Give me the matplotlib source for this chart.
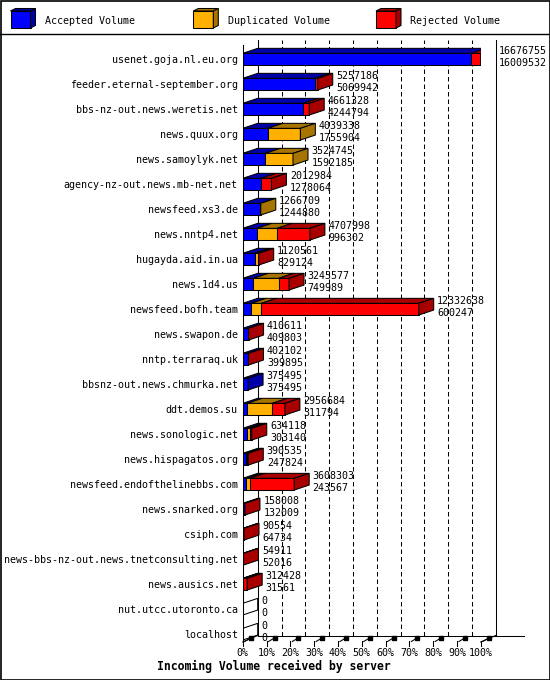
import matplotlib
matplotlib.use("Agg")
import matplotlib.pyplot as plt
from matplotlib.patches import Rectangle, Polygon
from matplotlib.lines import Line2D

# ---------------- data ----------------
servers = [
    "usenet.goja.nl.eu.org", "feeder.eternal-september.org", "bbs-nz-out.news.weretis.net",
    "news.quux.org", "news.samoylyk.net", "agency-nz-out.news.mb-net.net", "newsfeed.xs3.de",
    "news.nntp4.net", "hugayda.aid.in.ua", "news.1d4.us", "newsfeed.bofh.team", "news.swapon.de",
    "nntp.terraraq.uk", "bbsnz-out.news.chmurka.net", "ddt.demos.su", "news.sonologic.net",
    "news.hispagatos.org", "newsfeed.endofthelinebbs.com", "news.snarked.org", "csiph.com",
    "news-bbs-nz-out.news.tnetconsulting.net", "news.ausics.net", "nut.utcc.utoronto.ca", "localhost",
]
total_volume = [16676755, 5257186, 4661328, 4039338, 3524745, 2012984, 1266709, 4707998, 1120561,
                3245577, 12332638, 410611, 402102, 375495, 2956684, 634118, 390535, 3608303,
                158008, 90554, 54911, 312428, 0, 0]
accepted = [16009532, 5069942, 4244794, 1755904, 1592185, 1278064, 1244880, 996302, 829124,
            749989, 600247, 409803, 399895, 375495, 311794, 303140, 247824, 243567,
            132009, 64734, 52016, 31561, 0, 0]
duplicated = [0, 0, 0, 2283434, 1932560, 0, 21829, 1410000, 230000,
              1765000, 706000, 0, 0, 0, 1760000, 190000, 60000, 235000,
              0, 0, 0, 0, 0, 0]
rejected = [667223, 187244, 416534, 0, 0, 734920, 0, 2301696, 61437,
            730588, 11026391, 808, 2207, 0, 884890, 140978, 82711, 3129736,
            25999, 25820, 2895, 280867, 0, 0]
legend_labels = ["Accepted Volume", "Duplicated Volume", "Rejected Volume"]
tick_labels = ["0%", "10%", "20%", "30%", "40%", "50%", "60%", "70%", "80%", "90%", "100%"]
title = "Incoming Volume received by server"

# ---------------- style ----------------
FRONT = ["#0000ff", "#ffb000", "#ff0000"]
DARK = ["#0000a8", "#a87400", "#a80000"]
FONT = "DejaVu Sans Mono"
FS = 7.2
LW = 0.75

W, H = 550, 680
fig = plt.figure(figsize=(W / 100, H / 100), dpi=100)
fig.patch.set_facecolor("white")

# pixel overlay for legend / frame
pax = fig.add_axes([0, 0, 1, 1])
pax.set_xlim(0, W)
pax.set_ylim(H, 0)
pax.set_axis_off()
pax.add_patch(Rectangle((0.5, 0.5), W - 1, H - 1, fill=False, ec="black", lw=1.2))
pax.add_line(Line2D([0, W], [34, 34], color="black", lw=1.0))

cube_x = [10.5, 193.3, 376.0]
label_x = [44.6, 228.0, 410.5]
for k in range(3):
    x0, y0, cw, ch, d, u = cube_x[k], 11.0, 20, 17, 5, 2.5
    pax.add_patch(Rectangle((x0, y0), cw, ch, fc=FRONT[k], ec="black", lw=LW))
    pax.add_patch(Polygon([(x0, y0), (x0 + d, y0 - u), (x0 + cw + d, y0 - u), (x0 + cw, y0)],
                          fc=DARK[k], ec="black", lw=LW))
    pax.add_patch(Polygon([(x0 + cw, y0), (x0 + cw + d, y0 - u), (x0 + cw + d, y0 + ch - u),
                           (x0 + cw, y0 + ch)], fc=DARK[k], ec="black", lw=LW))
    pax.text(label_x[k], 23.8, legend_labels[k], family=FONT, fontsize=FS, ha="left", va="baseline")

# main axes: front plane
X0, X1 = 242.7, 480.7      # px of 0% / 100%
YT, YB = 40.0, 642.0       # px top / front floor
ROW0, ROWSP = 59.2, 25.0   # px of first row centre, spacing
ax = fig.add_axes([X0 / W, (H - YB) / H, (X1 - X0) / W, (YB - YT) / H])
ax.set_axis_off()
vmax = max(total_volume)
ax.set_xlim(0, vmax)
ax.set_ylim((YB - ROW0) / ROWSP, (YT - ROW0) / ROWSP)

def px_x(p):
    return p * vmax / (X1 - X0)

def px_y(p):
    return p / ROWSP

DX = px_x(15)
DY = px_y(5)
FDY = px_y(6.5)
ytop_ax = (YT - ROW0) / ROWSP
yfront = (YB - ROW0) / ROWSP
yback = yfront - FDY

# back wall grid
for k in range(1, 10):
    ax.plot([k * vmax / 10 + DX] * 2, [yback, ytop_ax], color="black", lw=LW,
            dashes=(4.3, 2.9), zorder=1, clip_on=False)
ax.plot([DX, DX], [yback, ytop_ax], color="black", lw=LW, zorder=1, clip_on=False)
ax.plot([vmax + DX, vmax + DX], [yback, ytop_ax], color="black", lw=LW, zorder=1, clip_on=False)
ax.plot([DX, px_x(524 - X0)], [yback, yback], color="black", lw=LW, zorder=1, clip_on=False)
ax.plot([0, DX], [yfront, yback], color="black", lw=LW, zorder=1, clip_on=False)
ax.plot([vmax, vmax + DX], [yfront, yback], color="black", lw=LW, zorder=1, clip_on=False)
ax.plot([0, 0], [ytop_ax + px_y(5), yfront + px_y(2)], color="black", lw=LW, zorder=5, clip_on=False)

# ticks on the floor
for k, lab in enumerate(tick_labels):
    xv = k * vmax / 10
    ax.plot([xv, xv], [yfront - px_y(1), yfront + px_y(4)], color="black", lw=LW, clip_on=False, zorder=3)
    ax.plot([xv + px_x(2), xv + px_x(7)], [yfront - px_y(0.5), yfront - px_y(3.5)],
            color="black", lw=LW, clip_on=False, zorder=3)
    ax.plot([xv + px_x(8)], [yfront - px_y(4)], marker="s", ms=2.2, color="black",
            clip_on=False, zorder=3)
    ax.text(xv, yfront + px_y(14), lab, family=FONT, fontsize=FS, ha="center", va="baseline")

ax.text(px_x(274 - X0), yfront + px_y(28), title, family=FONT, fontsize=8.3,
        fontweight="bold", ha="center", va="baseline")

BH = px_y(11.7)
for i, name in enumerate(servers):
    segs = [(accepted[i], 0), (duplicated[i], 1), (rejected[i], 2)]
    yt, yb = i - BH / 2, i + BH / 2
    left = 0
    last = None
    for val, c in segs:
        if val <= 0:
            continue
        ax.add_patch(Rectangle((left, yt), val, BH, fc=FRONT[c], ec="black", lw=LW, zorder=4))
        ax.add_patch(Polygon([(left, yt), (left + DX, yt - DY), (left + val + DX, yt - DY),
                              (left + val, yt)], fc=DARK[c], ec="black", lw=LW, zorder=4))
        left += val
        last = c
    ax.add_patch(Polygon([(left, yt), (left + DX, yt - DY), (left + DX, yb - DY), (left, yb)],
                         fc=DARK[last] if last is not None else "none", ec="black", lw=LW, zorder=4))
    ax.text(-px_x(5), i + px_y(4), name, family=FONT, fontsize=FS, ha="right", va="baseline")
    tx = total_volume[i] + DX + px_x(3.5)
    ax.text(tx, i - px_y(5), str(total_volume[i]), family=FONT, fontsize=FS,
            ha="left", va="baseline", zorder=6)
    ax.text(tx, i + px_y(6.5), str(accepted[i]), family=FONT, fontsize=FS,
            ha="left", va="baseline", zorder=6)

fig.savefig("out.png", dpi=100, facecolor="white")
